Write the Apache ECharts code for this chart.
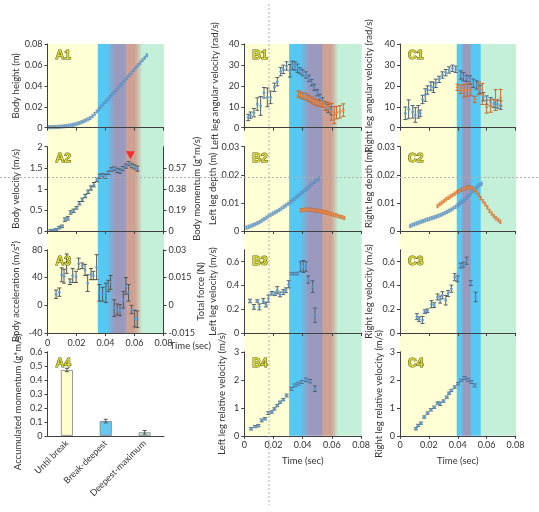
<!DOCTYPE html>
<html><head><meta charset="utf-8">
<script src="https://cdn.jsdelivr.net/npm/echarts@6/dist/echarts.min.js"></script>
<style>html,body{margin:0;padding:0;background:#fff}#c{width:539px;height:512px}</style>
</head><body><div id="c"></div>
<script>
// ---------- DATA ----------
const timeTicks = [0, 0.02, 0.04, 0.06, 0.08];
// A1 body height (m): [t, value]
const a1Height = [[0.001,0.0005],[0.0025,0.0005],[0.004,0.0006],[0.0055,0.0007],[0.007,0.0008],[0.0085,0.0009],[0.010,0.0011],[0.0115,0.0013],[0.013,0.0016],[0.0145,0.0019],[0.016,0.0023],[0.0175,0.0027],[0.019,0.0032],[0.0205,0.0038],[0.022,0.0045],[0.0235,0.0053],[0.025,0.0062],[0.0265,0.0071],[0.028,0.0081],[0.0295,0.0093],[0.031,0.0110],[0.0325,0.0130],[0.034,0.0155],[0.0355,0.0178],[0.037,0.0201],[0.0385,0.0224],[0.040,0.0247],[0.0415,0.0270],[0.043,0.0293],[0.0445,0.0316],[0.046,0.0339],[0.0475,0.0362],[0.049,0.0385],[0.0505,0.0408],[0.052,0.0431],[0.0535,0.0454],[0.055,0.0478],[0.0565,0.0502],[0.058,0.0526],[0.0595,0.0550],[0.061,0.0574],[0.0625,0.0598],[0.064,0.0621],[0.0655,0.0645],[0.067,0.0668],[0.0685,0.0691]];
const a1HeightErr = 0.0015;
// A2 body velocity (m/s): [t, value, err]
const a2Velocity = [[0.002,0.01,0.02],[0.004,0.02,0.02],[0.006,0.04,0.02],[0.008,0.08,0.03],[0.010,0.11,0.03],[0.012,0.27,0.04],[0.014,0.30,0.04],[0.016,0.44,0.04],[0.018,0.48,0.04],[0.020,0.55,0.03],[0.022,0.66,0.04],[0.024,0.74,0.04],[0.026,0.83,0.04],[0.028,0.93,0.04],[0.030,1.02,0.05],[0.032,1.10,0.05],[0.034,1.22,0.05],[0.036,1.30,0.05],[0.038,1.32,0.04],[0.040,1.30,0.05],[0.042,1.38,0.04],[0.044,1.46,0.04],[0.046,1.48,0.04],[0.048,1.44,0.05],[0.050,1.42,0.05],[0.052,1.48,0.05],[0.054,1.54,0.05],[0.056,1.60,0.05],[0.058,1.55,0.05],[0.060,1.52,0.05],[0.062,1.48,0.06]];
const a2Peak = [[0.0572, 1.80]];
// A3 body acceleration (m/s^2): [t, value, err]
const a3Accel = [[0.0059,16,6],[0.0082,19,6],[0.0098,44,10],[0.0114,42,10],[0.0132,60,14],[0.0155,34,4],[0.0174,43,10],[0.0197,41,8],[0.0215,60,8],[0.0240,57,4],[0.0259,51,8],[0.0277,32,12],[0.0300,45,8],[0.0316,43,6],[0.0339,55,18],[0.0357,18,12],[0.0380,16,10],[0.0403,18,14],[0.0419,28,8],[0.0435,33,10],[0.0460,-4,12],[0.0481,-6,8],[0.0500,-7,8],[0.0523,8,12],[0.0541,28,12],[0.0559,18,12],[0.0580,-6,6],[0.0601,-19,12],[0.0619,-20,12]];
// A4 accumulated momentum
const a4Cats = ['Until break', 'Break-deepest', 'Deepest-maximum'];
const a4Values = [0.47, 0.105, 0.025];
const a4Errors = [0.012, 0.013, 0.013];
// B1 left leg angular velocity (rad/s)
const b1Blue = [[0.0027,4.9,1.5],[0.0043,6,1.5],[0.0066,7.2,2],[0.0089,11.3,3],[0.0112,10.4,4.5],[0.0135,16.7,2.5],[0.0158,14.5,4.5],[0.0180,14.5,3],[0.0206,19.3,2],[0.0226,22,2],[0.0249,26.8,2],[0.0267,27.9,2],[0.0290,29.5,2],[0.0313,27.2,3],[0.0329,29.8,2],[0.0347,29.5,2],[0.0365,28.4,2],[0.0381,27.2,1.5],[0.0400,26.3,1.5],[0.0422,25.2,1.5],[0.0443,23.6,1.5],[0.0461,21.5,1.5],[0.0479,19.3,1.5],[0.0500,16.7,1.5],[0.0518,14.5,1.5],[0.0536,12.9,1.5],[0.0557,10.4,2],[0.0575,9.2,2],[0.0594,8.1,2]];
const b1Orange = [[0.0370,16.1,1.5],[0.0386,15.6,1.5],[0.0404,15.1,1.5],[0.0422,14.8,1.5],[0.0441,14,1.5],[0.0461,13.2,1.5],[0.0479,12.4,1.5],[0.0498,12,1.5],[0.0518,11.6,1.5],[0.0536,11.3,1.5],[0.0557,10.4,2],[0.0575,10,2],[0.0598,7.6,4],[0.0616,6,4],[0.0632,7.2,3],[0.0655,7.6,3],[0.0678,8.4,3]];
// B2 left leg depth (m)
const b2Blue = [[0.0015,0.0012],[0.003,0.0015],[0.0045,0.0018],[0.006,0.0021],[0.0075,0.0024],[0.009,0.0028],[0.0105,0.0032],[0.012,0.0037],[0.0135,0.0042],[0.015,0.0047],[0.0165,0.0052],[0.018,0.0057],[0.0195,0.0062],[0.021,0.0066],[0.0225,0.0070],[0.024,0.0075],[0.0255,0.0080],[0.027,0.0086],[0.0285,0.0091],[0.030,0.0097],[0.0315,0.0103],[0.033,0.0109],[0.0345,0.0115],[0.036,0.0122],[0.0375,0.0128],[0.039,0.0134],[0.0405,0.0140],[0.042,0.0146],[0.0435,0.0153],[0.045,0.0161],[0.0465,0.0168],[0.048,0.0175],[0.0495,0.0181],[0.051,0.0186]];
const b2Orange = [[0.0385,0.0073],[0.040,0.0075],[0.0415,0.0076],[0.043,0.0076],[0.0445,0.0076],[0.046,0.0075],[0.0475,0.0074],[0.049,0.0073],[0.0505,0.0072],[0.052,0.0070],[0.0535,0.0069],[0.055,0.0067],[0.0565,0.0065],[0.058,0.0063],[0.0595,0.0061],[0.061,0.0058],[0.0625,0.0056],[0.064,0.0054],[0.0655,0.0051],[0.067,0.0049],[0.0685,0.0046]];
const depthErr = 0.0006;
// B3 left leg velocity (m/s)
const b3Velocity = [[0.0039,0.27,0.015],[0.0066,0.22,0.02],[0.0089,0.27,0.01],[0.0103,0.22,0.025],[0.0130,0.27,0.02],[0.0149,0.24,0.02],[0.0165,0.29,0.03],[0.0188,0.335,0.015],[0.0210,0.33,0.015],[0.0226,0.36,0.03],[0.0245,0.325,0.02],[0.0267,0.345,0.02],[0.0285,0.36,0.02],[0.0304,0.41,0.03],[0.0324,0.50,0.01],[0.0347,0.50,0.01],[0.0363,0.50,0.01],[0.0386,0.56,0.04],[0.0404,0.56,0.05],[0.0422,0.56,0.04],[0.0438,0.45,0.03],[0.0468,0.39,0.05],[0.0484,0.15,0.06]];
// B4 left leg relative velocity (m/s)
const b4RelVelocity = [[0.0046,0.25,0.04],[0.0073,0.33,0.04],[0.0096,0.36,0.04],[0.0119,0.55,0.05],[0.0142,0.61,0.04],[0.0165,0.81,0.05],[0.0188,0.85,0.04],[0.0206,0.96,0.04],[0.0226,1.08,0.04],[0.0245,1.20,0.04],[0.0267,1.29,0.04],[0.0290,1.44,0.05],[0.0324,1.68,0.05],[0.0347,1.80,0.05],[0.0370,1.86,0.05],[0.0393,1.92,0.05],[0.0422,2.00,0.06],[0.0450,1.95,0.06],[0.0484,1.68,0.1]];
// C1 right leg angular velocity (rad/s)
const c1Blue = [[0.0037,6.9,3],[0.0060,8.8,4.5],[0.0088,7.6,3],[0.0106,6.1,3.5],[0.0127,7.6,3],[0.0140,6.9,1.5],[0.0156,13.5,2],[0.0175,15.6,3],[0.0191,18,2],[0.0214,19.9,2],[0.0232,19.3,2.5],[0.0248,21.2,2],[0.0271,23.1,1.5],[0.0294,25.2,1.5],[0.0317,26.3,1.5],[0.0340,27.6,1.5],[0.0363,28.4,1.5],[0.0386,27.9,1.5],[0.0421,25.2,2],[0.0439,24.4,2],[0.0462,23.6,1.5],[0.0485,22.8,2],[0.0508,21.2,2],[0.0531,20.4,2],[0.0554,18.3,2],[0.0577,14.8,2],[0.0600,13.2,2],[0.0628,12.4,2],[0.0651,11.6,2],[0.0674,11.3,2],[0.0697,10.8,2]];
const c1Orange = [[0.0398,19.3,1.5],[0.0421,18.3,2],[0.0444,17.7,3],[0.0467,18,3],[0.0490,18.3,3],[0.0517,13.5,1.5],[0.0547,18.8,3],[0.0570,16.1,5],[0.0600,10,3],[0.0628,10.4,3],[0.0662,13.2,5],[0.0697,14.3,4]];
// C2 right leg depth (m)
const c2Blue = [[0.007,0.0018],[0.0085,0.0021],[0.010,0.0024],[0.0115,0.0027],[0.013,0.0030],[0.0145,0.0033],[0.016,0.0035],[0.0175,0.0038],[0.019,0.0041],[0.0205,0.0043],[0.022,0.0046],[0.0235,0.0048],[0.025,0.0051],[0.0265,0.0054],[0.028,0.0057],[0.0295,0.0060],[0.031,0.0064],[0.0325,0.0068],[0.034,0.0072],[0.0355,0.0076],[0.037,0.0081],[0.0385,0.0086],[0.040,0.0092],[0.0415,0.0098],[0.043,0.0104],[0.0445,0.0111],[0.046,0.0118],[0.0475,0.0126],[0.049,0.0134],[0.0505,0.0142],[0.052,0.0150],[0.0535,0.0157],[0.055,0.0163],[0.0565,0.0168]];
const c2Orange = [[0.026,0.0089],[0.0275,0.0095],[0.029,0.0101],[0.0305,0.0107],[0.032,0.0113],[0.0335,0.0118],[0.035,0.0123],[0.0365,0.0128],[0.038,0.0133],[0.0395,0.0138],[0.041,0.0142],[0.0425,0.0146],[0.044,0.0150],[0.0455,0.0153],[0.047,0.0155],[0.0485,0.0155],[0.050,0.0152],[0.0515,0.0146],[0.053,0.0138],[0.0545,0.0128],[0.056,0.0117],[0.0575,0.0106],[0.059,0.0095],[0.0605,0.0084],[0.062,0.0072],[0.0635,0.0062],[0.065,0.0053],[0.0665,0.0045],[0.068,0.0039],[0.0695,0.0033]];
// C3 right leg velocity (m/s)
const c3Velocity = [[0.0117,0.138,0.025],[0.0133,0.116,0.02],[0.0156,0.11,0.03],[0.0172,0.18,0.015],[0.0190,0.188,0.015],[0.0218,0.243,0.03],[0.0237,0.235,0.02],[0.0260,0.304,0.025],[0.0278,0.282,0.03],[0.0294,0.318,0.03],[0.0317,0.276,0.04],[0.0333,0.332,0.025],[0.0356,0.373,0.03],[0.0379,0.47,0.03],[0.0398,0.456,0.025],[0.0421,0.567,0.02],[0.0439,0.575,0.02],[0.0462,0.608,0.03],[0.0490,0.42,0.02],[0.0524,0.304,0.04]];
// C4 right leg relative velocity (m/s)
const c4RelVelocity = [[0.0110,0.25,0.04],[0.0126,0.37,0.04],[0.0145,0.45,0.04],[0.0168,0.67,0.04],[0.0191,0.81,0.04],[0.0214,0.93,0.04],[0.0237,1.02,0.04],[0.0260,1.17,0.04],[0.0278,1.14,0.06],[0.0301,1.24,0.04],[0.0324,1.38,0.04],[0.0340,1.52,0.04],[0.0356,1.62,0.04],[0.0379,1.74,0.04],[0.0402,1.86,0.04],[0.0425,1.98,0.04],[0.0448,2.07,0.05],[0.0471,2.00,0.05],[0.0494,1.92,0.05],[0.0517,1.80,0.05]];
// Phase bands (time ranges)
const bandsA = [[0,0.0347,'Y'],[0.0347,0.041,'B'],[0.041,0.046,'B-P'],[0.046,0.053,'P'],[0.053,0.055,'P-R'],[0.055,0.0605,'R'],[0.0605,0.065,'R-G'],[0.065,0.08,'G']];
const bandsB = [[0,0.0307,'Y'],[0.0307,0.038,'B'],[0.038,0.044,'B-P'],[0.044,0.0535,'P'],[0.0535,0.0595,'R'],[0.0595,0.064,'R-G'],[0.064,0.08,'G']];
const bandsC = [[0,0.0393,'Y'],[0.0393,0.0432,'B'],[0.0432,0.049,'P'],[0.049,0.0559,'B'],[0.0559,0.08,'G']];

// ---------- STYLE ----------
const FONT = 'Lato', TXT = '#333', AX = '#404040';
const BLUE = '#5b9bd5', ORANGE = '#ed7d31', ERRB = '#4f6178', ERRO = '#c8682a';
const BAND = {Y:'#ffffd6', B:'#55c8f3', P:'#9a9abf', R:'#cfa192', G:'#c4efd9'};
const COLS = {A:{left:47.5,width:116}, B:{left:244.3,width:116.8}, C:{left:400,width:115.5}};
const ROWS = [{top:44,height:83.7},{top:146.7,height:84.3},{top:249.8,height:83.3},{top:351.8,height:84}];

const grid=[], xAxis=[], yAxis=[], series=[], title=[];
function addGrid(l,t,w,h){grid.push({left:l,top:t,width:w,height:h,containLabel:false,outerBoundsMode:'none'});return grid.length-1;}
function lbl(show){return {show:show,fontSize:9,fontFamily:FONT,color:TXT,margin:5};}
function addTimeX(g, showLabels, name, nameStyle){
  const ax = {type:'value',gridIndex:g,min:timeTicks[0],max:timeTicks[timeTicks.length-1],interval:timeTicks[1]-timeTicks[0],
    axisLine:{show:true,onZero:false,lineStyle:{color:AX,width:1}},axisTick:{show:true,length:3,lineStyle:{color:AX}},
    axisLabel:lbl(showLabels),splitLine:{show:false},z:5};
  if(name){Object.assign(ax,{name:name,nameMoveOverlap:false},nameStyle);}
  xAxis.push(ax);return xAxis.length-1;
}
function addY(g,min,max,interval,name,gap,opts){
  const ax={type:'value',gridIndex:g,min:min,max:max,interval:interval,position:'left',
    axisLine:{show:true,onZero:false,lineStyle:{color:AX,width:1}},axisTick:{show:true,length:3,lineStyle:{color:AX}},
    axisLabel:lbl(true),splitLine:{show:false},z:5,
    name:name,nameLocation:'middle',nameGap:gap,nameMoveOverlap:false,
    nameTextStyle:{fontSize:9.5,fontFamily:FONT,color:TXT}};
  if(opts) Object.assign(ax,opts);
  yAxis.push(ax);return yAxis.length-1;
}
function errRender(color, w, lw){
  return function(params, api){
    const x=api.value(0),y=api.value(1),e=api.value(2);
    const a=api.coord([x,y+e]), b=api.coord([x,y-e]);
    const st={stroke:color,lineWidth:lw||1};
    return {type:'group',children:[
      {type:'line',shape:{x1:a[0],y1:a[1],x2:b[0],y2:b[1]},style:st},
      {type:'line',shape:{x1:a[0]-w,y1:a[1],x2:a[0]+w,y2:a[1]},style:st},
      {type:'line',shape:{x1:b[0]-w,y1:b[1],x2:b[0]+w,y2:b[1]},style:st}]};
  };
}
function addErr(xi,yi,rows,color,w,lw){
  series.push({type:'custom',xAxisIndex:xi,yAxisIndex:yi,data:rows,renderItem:errRender(color,w||2,lw),silent:true,z:3,clip:false});
}
function addPts(xi,yi,rows,color,size){
  series.push({type:'scatter',xAxisIndex:xi,yAxisIndex:yi,data:rows.map(r=>[r[0],r[1]]),symbol:'circle',symbolSize:size||3,
    itemStyle:{color:color},silent:true,z:4,animation:false});
}
// dense series: markers with small uniform error bars
function addDense(xi,yi,rows,err,color,errColor){
  addErr(xi,yi,rows.map(r=>[r[0],r[1],err]),errColor,1.2,0.7);
  addPts(xi,yi,rows,color,2.6);
}
function bandFill(key){
  if(key.indexOf('-')<0) return BAND[key];
  const k=key.split('-');
  return new echarts.graphic.LinearGradient(0,0,1,0,[{offset:0,color:BAND[k[0]]},{offset:1,color:BAND[k[1]]}]);
}
function addBands(col, bottom, bands){
  const c=COLS[col]; const g=addGrid(c.left,44,c.width,bottom-44);
  xAxis.push({type:'value',gridIndex:g,min:0,max:0.08,show:false});
  yAxis.push({type:'value',gridIndex:g,min:0,max:1,show:false});
  const xi=xAxis.length-1, yi=yAxis.length-1;
  series.push({type:'custom',xAxisIndex:xi,yAxisIndex:yi,data:bands.map(b=>[b[0],b[1],0]),silent:true,z:0,
    renderItem:function(params,api){
      const b=bands[params.dataIndex];
      const p0=api.coord([api.value(0),1]), p1=api.coord([api.value(1),0]);
      return {type:'rect',shape:{x:p0[0],y:p0[1],width:p1[0]-p0[0]+0.6,height:p1[1]-p0[1]},style:{fill:bandFill(b[2])}};
    }});
}
function panelLabel(text,col,row){
  title.push({text:text,left:COLS[col].left+3,top:ROWS[row].top+1,
    textStyle:{fontSize:12,fontWeight:'bold',fontFamily:'Liberation Sans',color:'#d6d63a',textBorderColor:'#5a5a10',textBorderWidth:1}});
}

// ---------- BACKGROUNDS ----------
addBands('A', ROWS[2].top+ROWS[2].height, bandsA);
addBands('B', ROWS[3].top+ROWS[3].height, bandsB);
addBands('C', ROWS[3].top+ROWS[3].height, bandsC);

// ---------- COLUMN A ----------
let g,xi,yi,yi2;
g=addGrid(COLS.A.left,ROWS[0].top,COLS.A.width,ROWS[0].height);
xi=addTimeX(g,false); yi=addY(g,0,0.08,0.02,'Body height (m)',27);
addDense(xi,yi,a1Height,a1HeightErr,BLUE,'#5f7fa8');
panelLabel('A1','A',0);

g=addGrid(COLS.A.left,ROWS[1].top,COLS.A.width,ROWS[1].height);
xi=addTimeX(g,false); yi=addY(g,0,2,0.5,'Body velocity (m/s)',27);
yi2=addY(g,0,0.76,0.19,'Body momentum (g*m/s)',28,{position:'right',axisLabel:Object.assign(lbl(true),{showMaxLabel:false})});
addErr(xi,yi,a2Velocity,'#555'); addPts(xi,yi,a2Velocity,BLUE,3);
series.push({type:'scatter',xAxisIndex:xi,yAxisIndex:yi,data:a2Peak,symbol:'triangle',symbolRotate:180,symbolSize:[9,8],itemStyle:{color:'#ff1010'},z:6,silent:true});
panelLabel('A2','A',1);

g=addGrid(COLS.A.left,ROWS[2].top,COLS.A.width,ROWS[2].height);
xi=addTimeX(g,true,'Time (sec)',{nameLocation:'end',nameGap:6,nameTextStyle:{fontSize:9.5,fontFamily:FONT,color:TXT,align:'left',verticalAlign:'top',padding:[8,0,0,0]}});
yi=addY(g,-40,80,40,'Body acceleration (m/s²)',27);
yi2=addY(g,-0.015,0.03,0.015,'Total force (N)',32,{position:'right'});
addErr(xi,yi,a3Accel,'#555'); addPts(xi,yi,a3Accel,BLUE,3);
panelLabel('A3','A',2);

g=addGrid(COLS.A.left,ROWS[3].top,COLS.A.width+0.5,ROWS[3].height);
xAxis.push({type:'category',gridIndex:g,data:a4Cats,axisLine:{show:true,lineStyle:{color:AX}},axisTick:{show:false},
  axisLabel:{fontSize:9,fontFamily:FONT,color:TXT,rotate:45,margin:6,interval:0},z:5});
xi=xAxis.length-1;
yi=addY(g,0,0.6,0.1,'Accumulated momentum (g*m/s)',25,{nameTextStyle:{fontSize:9.5,fontFamily:FONT,color:TXT,padding:[0,0,0,-16]}});
const barColors=['#ffffcc','#66c9f2','#c6efd6'];
series.push({type:'bar',xAxisIndex:xi,yAxisIndex:yi,barWidth:12,silent:true,z:2,
  data:a4Values.map((v,i)=>({value:v,itemStyle:{color:barColors[i],borderColor:'#808080',borderWidth:0.8}}))});
addErr(xi,yi,a4Values.map((v,i)=>[i,v,a4Errors[i]]),'#555');
panelLabel('A4','A',3);

// ---------- COLUMN B ----------
g=addGrid(COLS.B.left,ROWS[0].top,COLS.B.width,ROWS[0].height);
xi=addTimeX(g,false); yi=addY(g,0,40,10,'Left leg angular velocity (rad/s)',24);
addErr(xi,yi,b1Blue,ERRB); addPts(xi,yi,b1Blue,BLUE,3);
addErr(xi,yi,b1Orange,ERRO); addPts(xi,yi,b1Orange,ORANGE,3);
panelLabel('B1','B',0);

g=addGrid(COLS.B.left,ROWS[1].top,COLS.B.width,ROWS[1].height);
xi=addTimeX(g,false); yi=addY(g,0,0.03,0.01,'Left leg depth (m)',26);
addDense(xi,yi,b2Blue,depthErr,BLUE,'#5f7fa8'); addDense(xi,yi,b2Orange,depthErr,ORANGE,'#c8682a');
panelLabel('B2','B',1);

g=addGrid(COLS.B.left,ROWS[2].top,COLS.B.width,ROWS[2].height);
xi=addTimeX(g,false); yi=addY(g,0,0.7,0.2,'Left leg velocity (m/s)',26,{axisLabel:Object.assign(lbl(true),{showMaxLabel:false})});
addErr(xi,yi,b3Velocity,ERRB); addPts(xi,yi,b3Velocity,BLUE,3);
panelLabel('B3','B',2);

g=addGrid(COLS.B.left,ROWS[3].top,COLS.B.width,ROWS[3].height);
xi=addTimeX(g,true,'Time (sec)',{nameLocation:'middle',nameGap:20,nameTextStyle:{fontSize:9.5,fontFamily:FONT,color:TXT}});
yi=addY(g,0,3,1,'Left leg relative velocity (m/s)',17);
addErr(xi,yi,b4RelVelocity,ERRB); addPts(xi,yi,b4RelVelocity,BLUE,3);
panelLabel('B4','B',3);

// ---------- COLUMN C ----------
g=addGrid(COLS.C.left,ROWS[0].top,COLS.C.width,ROWS[0].height);
xi=addTimeX(g,false); yi=addY(g,0,40,10,'Right leg angular velocity (rad/s)',26.5);
addErr(xi,yi,c1Blue,ERRB); addPts(xi,yi,c1Blue,BLUE,3);
addErr(xi,yi,c1Orange,ERRO); addPts(xi,yi,c1Orange,ORANGE,3);
panelLabel('C1','C',0);

g=addGrid(COLS.C.left,ROWS[1].top,COLS.C.width,ROWS[1].height);
xi=addTimeX(g,false); yi=addY(g,0,0.03,0.01,'Right leg depth (m)',26.5);
addDense(xi,yi,c2Blue,depthErr,BLUE,'#5f7fa8'); addDense(xi,yi,c2Orange,depthErr,ORANGE,'#c8682a');
panelLabel('C2','C',1);

g=addGrid(COLS.C.left,ROWS[2].top,COLS.C.width,ROWS[2].height);
xi=addTimeX(g,false); yi=addY(g,0,0.7,0.2,'Right leg velocity (m/s)',26.5,{axisLabel:Object.assign(lbl(true),{showMaxLabel:false})});
addErr(xi,yi,c3Velocity,ERRB); addPts(xi,yi,c3Velocity,BLUE,3);
panelLabel('C3','C',2);

g=addGrid(COLS.C.left,ROWS[3].top,COLS.C.width,ROWS[3].height);
xi=addTimeX(g,true,'Time (sec)',{nameLocation:'middle',nameGap:20,nameTextStyle:{fontSize:9.5,fontFamily:FONT,color:TXT}});
yi=addY(g,0,3,1,'Right leg relative velocity (m/s)',16.5);
addErr(xi,yi,c4RelVelocity,ERRB); addPts(xi,yi,c4RelVelocity,BLUE,3);
panelLabel('C4','C',3);

const chart = echarts.init(document.getElementById('c'), null, {renderer:'canvas'});
chart.setOption({
  animation:false, backgroundColor:'#fff',
  title, grid, xAxis, yAxis, series,
  graphic:[
    {type:'line',shape:{x1:269,y1:4,x2:269,y2:505},style:{stroke:'#b0b0b0',lineDash:[2,2],lineWidth:1},z:100,silent:true},
    {type:'line',shape:{x1:0,y1:177.5,x2:539,y2:177.5},style:{stroke:'#b0b0b0',lineDash:[2,2],lineWidth:1},z:100,silent:true}
  ]
});
</script></body></html>
